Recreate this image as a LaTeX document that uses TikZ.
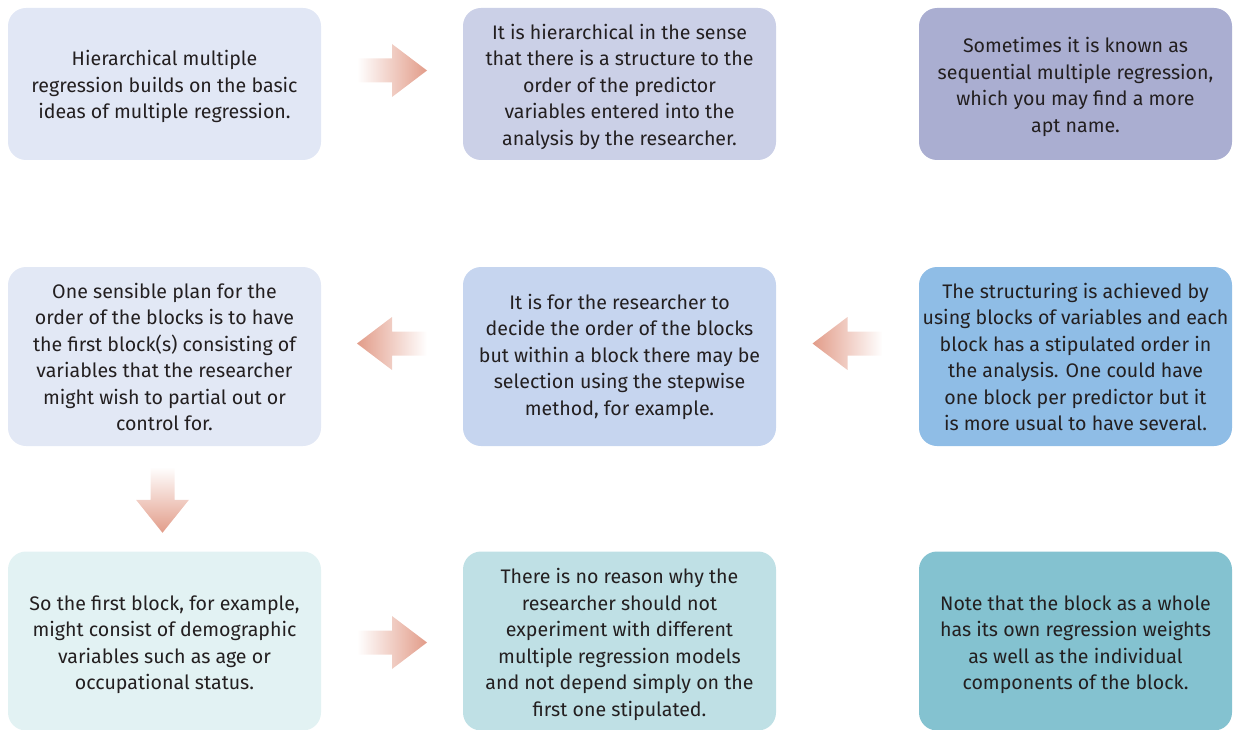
\documentclass[tikz,border=0pt]{standalone}
\usepackage{fontspec}
\setmainfont{Fira Sans}
\usetikzlibrary{calc}
\definecolor{txt}{HTML}{231F20}
\definecolor{cA}{HTML}{E1E7F5}
\definecolor{cB}{HTML}{CBD0E7}
\definecolor{cC}{HTML}{AAAED1}
\definecolor{cD}{HTML}{E2E8F5}
\definecolor{cE}{HTML}{C6D5EF}
\definecolor{cF}{HTML}{8FBDE6}
\definecolor{cG}{HTML}{E2F2F3}
\definecolor{cH}{HTML}{BFE0E5}
\definecolor{cI}{HTML}{84C2D0}
\definecolor{arrowc}{HTML}{E29C89}
% tall invisible struts on a first line lower the text block a little
\newcommand\strutTop{\rule{0pt}{21pt}}
\newcommand\strutMid{\rule{0pt}{16pt}}
\newcommand\strutLow{\rule{0pt}{22pt}}
\tikzset{
  box/.style={rounded corners=18pt, inner sep=0pt, minimum width=313pt,
    align=center, text=txt,
    font=\fontsize{19.6}{26.5}\selectfont},
  toprow/.style={minimum height=152pt},
  lowrow/.style={minimum height=179pt},
  rarrow/.pic={\shade[left color=white, right color=arrowc]
    (-35,-12) -- (0,-12) -- (0,-26.5) -- (35,0) -- (0,26.5) -- (0,12) -- (-35,12) -- cycle;},
  larrow/.pic={\shade[right color=white, left color=arrowc]
    (35,-12) -- (0,-12) -- (0,-26.5) -- (-35,0) -- (0,26.5) -- (0,12) -- (35,12) -- cycle;},
  darrow/.pic={\shade[top color=white, bottom color=arrowc]
    (-12,-32) -- (-12,1) -- (-26.5,1) -- (0,34) -- (26.5,1) -- (12,1) -- (12,-32) -- cycle;},
}
\begin{document}
\begin{tikzpicture}[x=1pt, y=-1pt]
\useasboundingbox (0,0) rectangle (1233,730);

% first row
\node[box, toprow, fill=cA] (b1) at (164.5,84) {\strutTop Hierarchical multiple\\regression builds on the basic\\ideas of multiple regression.};
\node[box, toprow, fill=cB] (b2) at (619.5,84) {\strutTop It is hierarchical in the sense\\that there is a structure to the\\order of the predictor\\variables entered into the\\analysis by the researcher.};
\node[box, toprow, fill=cC] (b3) at (1075.5,84) {\strutTop Sometimes it is known as\\sequential multiple regression,\\which you may find a more\\apt name.};

% second row
\node[box, lowrow, fill=cD] (b4) at (164.5,356.5) {\strutMid One sensible plan for the\\order of the blocks is to have\\the first block(s) consisting of\\variables that the researcher\\might wish to partial out or\\control for.};
\node[box, lowrow, fill=cE] (b5) at (619.5,356.5) {\strutMid It is for the researcher to\\decide the order of the blocks\\but within a block there may be\\selection using the stepwise\\method, for example.};
\node[box, lowrow, fill=cF] (b6) at (1075.5,356.5) {\strutMid The structuring is achieved by\\using blocks of variables and each\\block has a stipulated order in\\the analysis. One could have\\one block per predictor but it\\is more usual to have several.};

% third row
\node[box, lowrow, fill=cG] (b7) at (164.5,641) {\strutLow So the first block, for example,\\might consist of demographic\\variables such as age or\\occupational status.};
\node[box, lowrow, fill=cH] (b8) at (619.5,641) {\strutLow There is no reason why the\\researcher should not\\experiment with different\\multiple regression models\\and not depend simply on the\\first one stipulated.};
\node[box, lowrow, fill=cI] (b9) at (1075.5,641) {\strutLow Note that the block as a whole\\has its own regression weights\\as well as the individual\\components of the block.};

% block arrows between the boxes
\pic at ($(b1.east)!0.5!(b2.west)+(0,-13.5)$) {rarrow};
\pic at ($(b5.east)!0.5!(b6.west)+(0,-13)$) {larrow};
\pic at ($(b4.east)!0.5!(b5.west)+(0,-13)$) {larrow};
\pic at ($(b4.south)!0.5!(b7.north)+(-2,0)$) {darrow};
\pic at ($(b7.east)!0.5!(b8.west)+(0,1.5)$) {rarrow};
\end{tikzpicture}
\end{document}
